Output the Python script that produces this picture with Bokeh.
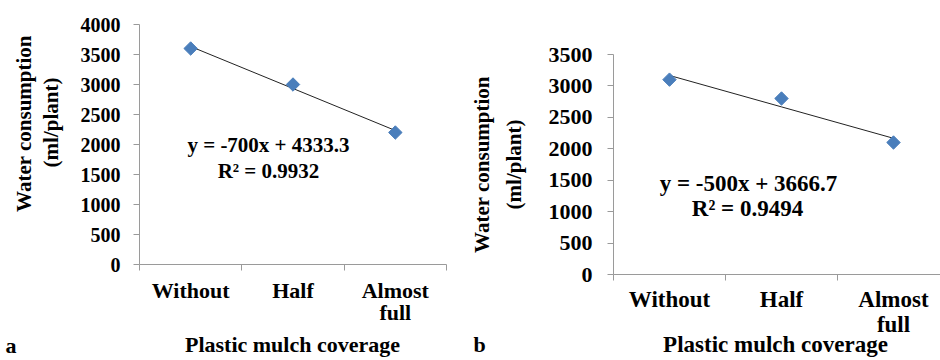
import numpy as np
from bokeh.plotting import figure
from bokeh.layouts import row
from bokeh.models import Range1d, FixedTicker, Label
from bokeh.embed import file_html
from bokeh.resources import INLINE

categories = ["Without", "Half", "Almost full"]
category_labels = ["Without", "Half", "Almost\nfull"]
water_a = [3600, 3000, 2200]
water_b = [3100, 2800, 2100]
yticks_a = [0, 500, 1000, 1500, 2000, 2500, 3000, 3500, 4000]
yticks_b = [0, 500, 1000, 1500, 2000, 2500, 3000, 3500]
x_title = "Plastic mulch coverage"
y_title = ["Water consumption", "(ml/plant)"]
panel_letters = ["a", "b"]

FONT = "Liberation Serif"
AXIS_COLOR = "#9a9a9a"
MARKER_COLOR = "#4a7ebb"
H = 360


def fit(vals):
    x = np.arange(1, len(vals) + 1)
    slope, intercept = np.polyfit(x, vals, 1)
    fitted = slope * x + intercept
    v = np.array(vals, dtype=float)
    r2 = 1 - np.sum((v - fitted) ** 2) / np.sum((v - v.mean()) ** 2)
    return x, fitted, slope, intercept, r2


def make_panel(vals, yticks, letter, c):
    n = len(categories)
    x0, x1 = 0.5, n + 0.5
    y0, y1 = 0, yticks[-1]
    ux = (x1 - x0) / (c["px1"] - c["px0"])
    uy = (y1 - y0) / (c["py0"] - c["py1"])
    xs_start = x0 - c["px0"] * ux
    ys_start = y0 - (H - c["py0"]) * uy
    p = figure(width=c["w"], height=H, output_backend="svg", toolbar_location=None,
               x_range=Range1d(xs_start, xs_start + c["w"] * ux),
               y_range=Range1d(ys_start, ys_start + H * uy),
               min_border=0)
    p.title.visible = False
    p.outline_line_color = None
    p.grid.visible = False
    p.background_fill_color = "white"
    p.border_fill_color = "white"

    xs = list(range(1, n + 1))
    xa = p.xaxis[0]
    xa.fixed_location = y0
    xa.bounds = (x0, x1)
    xa.ticker = FixedTicker(ticks=xs, minor_ticks=[x0 + i for i in range(n + 1)])
    xa.major_label_overrides = {x: lab for x, lab in zip(xs, category_labels)}
    xa.major_tick_out = 0
    xa.major_tick_in = 0
    xa.minor_tick_out = 6
    xa.minor_tick_in = 0
    xa.minor_tick_line_color = AXIS_COLOR
    xa.axis_line_color = AXIS_COLOR
    xa.major_label_text_font = FONT
    xa.major_label_text_font_style = "bold"
    xa.major_label_text_font_size = c["cat_fs"]
    xa.major_label_text_line_height = c["cat_lh"]
    xa.major_label_text_color = "black"
    xa.major_label_standoff = c["x_so"]

    ya = p.yaxis[0]
    ya.fixed_location = x0
    ya.bounds = (y0, y1)
    ya.ticker = FixedTicker(ticks=yticks, minor_ticks=[])
    ya.major_tick_out = 6
    ya.major_tick_in = 0
    ya.major_tick_line_color = AXIS_COLOR
    ya.axis_line_color = AXIS_COLOR
    ya.major_label_text_font = FONT
    ya.major_label_text_font_style = "bold"
    ya.major_label_text_font_size = c["tick_fs"]
    ya.major_label_text_color = "black"
    ya.major_label_standoff = c["y_so"]

    x, fitted, slope, intercept, r2 = fit(vals)
    p.line(x, fitted, line_color="#222222", line_width=1)
    p.scatter(xs, vals, marker="square", angle=np.pi / 4, size=c["msize"],
              fill_color=MARKER_COLOR, line_color=MARKER_COLOR)

    def lab(txt, px, py, fs, align="center", baseline="middle", angle=0.0):
        p.add_layout(Label(x=px, y=H - py, x_units="screen", y_units="screen", text=txt,
                           angle=angle, text_align=align, text_baseline=baseline,
                           text_font=FONT, text_font_style="bold",
                           text_font_size=fs, text_color="black"))

    eq = f"y = {slope:.0f}x + {intercept:.1f}"
    rr = f"R\u00b2 = {r2:.4f}"
    lab(eq, *c["eq"], c["eq_fs"])
    lab(rr, *c["rr"], c["eq_fs"])
    for txt, (px, py) in zip(y_title, c["yt"]):
        lab(txt, px, py, c["yt_fs"], angle=np.pi / 2)
    lab(x_title, *c["xt"], c["xt_fs"])
    lab(letter, *c["let"], "22px", align="left")
    return p


cfg_a = dict(w=470, px0=139, px1=446, py0=264, py1=24, cat_fs="22px", cat_lh=0.9, tick_fs="20px",
             x_so=7, y_so=13, msize=9.5, eq=(268, 144), rr=(268, 170), eq_fs="21px",
             yt=[(23, 123), (50, 122)], yt_fs="21px", xt=(292, 344), xt_fs="22px",
             let=(5, 345))
cfg_b = dict(w=470, px0=143, px1=479, py0=274, py1=54, cat_fs="23px", cat_lh=1.0, tick_fs="22px",
             x_so=6, y_so=15, msize=9.5, eq=(278, 183), rr=(277, 208), eq_fs="23px",
             yt=[(11, 164), (43, 164)], yt_fs="21px", xt=(305, 344), xt_fs="23px",
             let=(3, 344))

pa = make_panel(water_a, yticks_a, panel_letters[0], cfg_a)
pb = make_panel(water_b, yticks_b, panel_letters[1], cfg_b)

layout = row(pa, pb)
open("out.html", "w").write(file_html(layout, INLINE))
